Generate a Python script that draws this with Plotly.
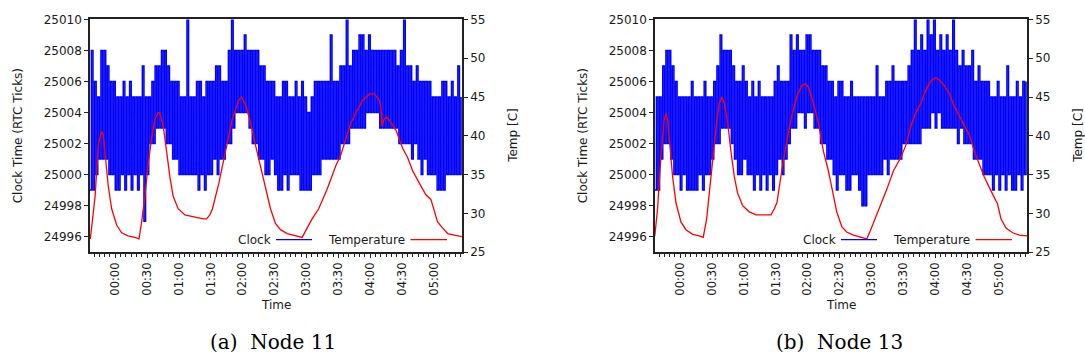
import pandas as pd
import plotly.graph_objects as go

# ---------------------------------------------------------------------------
# Data
# ---------------------------------------------------------------------------
BASE = pd.Timestamp("2016-06-02 00:00")

# Clock readings are summarised per 3-minute window (window start, in minutes
# relative to midnight): lowest and highest tick count seen in that window.
window_min = list(range(-24, 325, 3))

node11_clock_low = [
    24999, 24999, 25000, 25001, 25001, 25001, 25000, 25000, 24999, 24999,
    25000, 24999, 25000, 24999, 25000, 24999, 25000, 24997, 25000, 25002,
    25002, 25003, 25003, 25003, 25002, 25002, 25001, 25001, 25000, 25000,
    25000, 25000, 25000, 25000, 24999, 25000, 24999, 25000, 25000, 25001,
    25000, 25001, 25001, 25002, 25002, 25003, 25004, 25004, 25004, 25004,
    25003, 25002, 25002, 25001, 25001, 25000, 25000, 25001, 25000, 24999,
    24999, 25000, 24999, 25000, 25000, 25000, 24999, 24999, 24999, 24999,
    25000, 25000, 25000, 25001, 25001, 25001, 25001, 25001, 25001, 25002,
    25002, 25002, 25003, 25003, 25003, 25003, 25003, 25004, 25004, 25004,
    25004, 25003, 25003, 25003, 25003, 25003, 25003, 25002, 25002, 25002,
    25002, 25001, 25002, 25001, 25000, 25001, 25000, 25000, 25000, 24999,
    24999, 24999, 25000, 25000, 25000, 25000, 25000,
]
node11_clock_high = [
    25008, 25006, 25005, 25008, 25008, 25007, 25006, 25006, 25005, 25005,
    25006, 25005, 25006, 25005, 25005, 25005, 25007, 25005, 25005, 25006,
    25007, 25007, 25008, 25008, 25007, 25006, 25006, 25006, 25005, 25005,
    25010, 25005, 25005, 25006, 25006, 25005, 25006, 25006, 25006, 25007,
    25007, 25006, 25006, 25008, 25010, 25008, 25008, 25008, 25009, 25008,
    25008, 25008, 25008, 25007, 25007, 25006, 25006, 25006, 25005, 25005,
    25006, 25006, 25005, 25005, 25006, 25005, 25006, 25005, 25004, 25005,
    25006, 25006, 25006, 25006, 25006, 25009, 25006, 25006, 25007, 25007,
    25010, 25007, 25008, 25008, 25009, 25009, 25008, 25009, 25008, 25008,
    25008, 25008, 25008, 25008, 25008, 25008, 25007, 25008, 25010, 25007,
    25007, 25006, 25007, 25006, 25006, 25006, 25006, 25005, 25005, 25005,
    25006, 25006, 25005, 25006, 25005, 25007, 25005,
]

node13_clock_low = [
    24999, 24999, 25001, 25002, 25002, 25001, 25000, 25000, 24999, 25000,
    24999, 24999, 24999, 24999, 25000, 24999, 25000, 25000, 25001, 25002,
    25002, 25003, 25003, 25003, 25002, 25001, 25000, 25000, 25001, 25000,
    25000, 24999, 25000, 24999, 25000, 24999, 25000, 24999, 25000, 25001,
    25000, 25001, 25002, 25003, 25003, 25004, 25004, 25003, 25004, 25004,
    25003, 25003, 25002, 25002, 25001, 25001, 25000, 24999, 25000, 25000,
    24999, 24999, 25000, 25000, 24999, 24998, 24998, 25000, 25000, 25000,
    25000, 25000, 25001, 25000, 25001, 25001, 25001, 25001, 25002, 25002,
    25002, 25002, 25002, 25002, 25003, 25003, 25003, 25004, 25003, 25004,
    25003, 25003, 25003, 25003, 25003, 25002, 25003, 25002, 25002, 25002,
    25001, 25001, 25001, 25000, 25000, 25000, 24999, 25000, 24999, 25000,
    24999, 25000, 24999, 24999, 25000, 24999, 25000,
]
node13_clock_high = [
    25005, 25005, 25007, 25008, 25008, 25007, 25006, 25005, 25005, 25005,
    25005, 25006, 25005, 25005, 25005, 25006, 25005, 25005, 25006, 25007,
    25009, 25008, 25008, 25008, 25007, 25006, 25006, 25007, 25006, 25005,
    25006, 25005, 25006, 25005, 25005, 25005, 25005, 25006, 25007, 25006,
    25006, 25006, 25009, 25008, 25009, 25008, 25008, 25009, 25009, 25008,
    25008, 25008, 25007, 25007, 25006, 25006, 25005, 25006, 25006, 25005,
    25005, 25006, 25005, 25005, 25005, 25005, 25005, 25005, 25005, 25007,
    25005, 25005, 25006, 25006, 25007, 25006, 25006, 25006, 25006, 25007,
    25008, 25010, 25008, 25009, 25008, 25010, 25009, 25010, 25008, 25009,
    25008, 25009, 25008, 25010, 25008, 25007, 25008, 25007, 25007, 25008,
    25006, 25007, 25006, 25006, 25006, 25005, 25005, 25006, 25005, 25005,
    25007, 25005, 25005, 25006, 25005, 25006, 25006,
]

# Temperature samples: minutes relative to midnight and degrees Celsius
node11_temp_min = [
    -23.5, -19.0, -16.0, -13.5, -12.9, -11.3, -9.0, -6.6, -3.4, 1.3,
    6.0, 12.0, 18.5, 22.3, 24.8, 27.9, 31.0, 34.2, 37.3, 40.4,
    42.0, 45.1, 48.3, 51.4, 54.5, 59.2, 65.5, 74.9, 82.8, 85.9,
    89.0, 91.5, 97.5, 103.8, 110.0, 116.3, 118.8, 122.6, 127.3, 132.0,
    136.7, 141.4, 146.1, 150.8, 155.5, 161.8, 169.6, 175.9, 180.6, 185.3,
    191.5, 199.4, 207.8, 212.5, 217.2, 221.9, 226.6, 232.9, 239.2, 243.9,
    248.6, 250.2, 251.1, 253.3, 255.5, 259.6, 264.3, 270.5, 275.2, 279.9,
    286.2, 292.4, 297.1, 300.3, 303.4, 308.2, 312.9, 319.1, 326.3,
]
node11_temp = [
    26.7, 32.2, 38.8, 40.5, 40.6, 40.1, 37.2, 33.5, 30.6, 28.5,
    27.5, 27.1, 26.9, 26.7, 28.9, 32.2, 36.4, 39.7, 42.1, 43.0,
    42.9, 41.3, 38.0, 34.7, 32.2, 30.6, 29.8, 29.5, 29.3, 29.3,
    29.8, 30.6, 33.9, 38.0, 42.1, 44.6, 45.0, 44.0, 41.7, 38.8,
    36.0, 33.1, 30.6, 28.7, 27.9, 27.4, 27.1, 26.9, 28.1, 29.3,
    30.6, 33.1, 36.2, 37.6, 39.7, 41.7, 43.0, 44.6, 45.4, 45.4,
    44.6, 43.4, 41.3, 42.2, 42.4, 41.7, 40.7, 38.4, 37.2, 35.5,
    33.9, 32.4, 31.8, 30.2, 28.9, 28.1, 27.4, 27.2, 27.0,
]

node13_temp_min = [
    -24.0, -21.4, -18.3, -15.1, -13.5, -12.0, -9.8, -7.2, -4.1, 0.6,
    5.3, 11.6, 17.9, 21.6, 24.8, 27.9, 31.1, 34.2, 36.7, 39.2,
    41.4, 44.6, 47.7, 50.9, 54.0, 58.7, 65.0, 71.3, 79.1, 85.4,
    88.5, 91.0, 95.5, 100.2, 105.0, 109.6, 114.3, 117.5, 120.6, 125.3,
    130.0, 134.8, 139.4, 144.2, 147.3, 152.0, 156.7, 163.0, 170.9, 175.6,
    178.7, 183.5, 188.2, 194.4, 200.7, 207.6, 212.4, 217.1, 221.8, 226.5,
    231.2, 236.0, 240.6, 243.8, 248.4, 253.2, 257.9, 262.6, 267.4, 272.1,
    276.8, 281.5, 286.2, 292.5, 298.7, 301.9, 306.6, 312.9, 319.2, 326.4,
]
node13_temp = [
    27.1, 30.6, 37.2, 42.1, 42.9, 42.1, 38.8, 34.7, 31.4, 28.9,
    27.9, 27.3, 27.1, 26.9, 29.3, 33.5, 37.6, 41.7, 44.2, 45.0,
    44.2, 41.7, 38.0, 34.7, 32.6, 31.0, 30.2, 29.8, 29.8, 29.8,
    30.6, 31.4, 35.5, 39.3, 42.6, 45.0, 46.5, 46.7, 46.3, 44.2,
    41.7, 38.0, 35.5, 32.2, 30.2, 28.3, 27.6, 27.2, 26.9, 26.7,
    27.7, 29.3, 31.0, 33.1, 35.5, 37.2, 38.8, 41.3, 43.0, 44.2,
    45.9, 47.1, 47.5, 47.2, 46.5, 45.5, 43.8, 42.6, 41.3, 40.1,
    38.0, 36.4, 34.7, 32.9, 31.2, 29.3, 28.1, 27.5, 27.2, 27.1,
]

panels = [
    ("(a)\u00a0 Node 11", node11_clock_low, node11_clock_high, node11_temp_min, node11_temp),
    ("(b)\u00a0 Node 13", node13_clock_low, node13_clock_high, node13_temp_min, node13_temp),
]


def at(minutes):
    return [BASE + pd.Timedelta(minutes=m) for m in minutes]


def clock_trace_points(low, high):
    xs, ys = [], []
    for m, lo, hi in zip(window_min, low, high):
        xs += [m, m + 1.5]
        ys += [lo, hi]
    return at(xs), ys


# ---------------------------------------------------------------------------
# Figure
# ---------------------------------------------------------------------------
W, H = 1085, 363
FONT = "DejaVu Sans"
INK = "#1a1a1a"
BLUE = "#0000ff"
RED = "#ff0000"


def fx(p):
    return p / W


def fy(p):
    return 1 - p / H


plot_left = [90, 655]
plot_right = [462, 1027]
plot_top, plot_bottom = 13, 255

fig = go.Figure()
layout = dict(
    width=W, height=H,
    margin=dict(l=0, r=0, t=0, b=0),
    paper_bgcolor="white", plot_bgcolor="white",
    showlegend=False,
    font=dict(family=FONT, size=12, color=INK),
)
annotations, shapes = [], []

for i, (caption, lo, hi, tmin, temp) in enumerate(panels):
    xa = "x" if i == 0 else "x2"
    yc = "y" if i == 0 else "y3"
    yt = "y2" if i == 0 else "y4"
    xk = "xaxis" if i == 0 else "xaxis2"
    yck = "yaxis" if i == 0 else "yaxis3"
    ytk = "yaxis2" if i == 0 else "yaxis4"

    # clock readings drawn as a dense step trace between each window's extremes
    cx, cy = clock_trace_points(lo, hi)
    fig.add_trace(go.Scatter(x=cx, y=cy, mode="lines", name="Clock",
                             line=dict(color=BLUE, width=1.5, shape="hv",
                                       simplify=False),
                             xaxis=xa, yaxis=yc))
    fig.add_trace(go.Scatter(x=at(tmin), y=temp, mode="lines", name="Temperature",
                             line=dict(color=RED, width=1.3),
                             xaxis=xa, yaxis=yt))

    L, R = plot_left[i], plot_right[i]
    axis_common = dict(showgrid=False, zeroline=False, showline=True,
                       linecolor="#222222", linewidth=1.5,
                       ticks="outside", tickcolor="#222222", tickwidth=1,
                       tickfont=dict(family=FONT, size=12, color=INK))
    layout[xk] = dict(axis_common, type="date", domain=[fx(L), fx(R)], anchor=yc,
                      range=[BASE + pd.Timedelta(minutes=-23.8),
                             BASE + pd.Timedelta(minutes=326.4)],
                      tick0=BASE, dtick=30 * 60 * 1000, tickformat="%H:%M",
                      tickangle=-90, ticklen=4, mirror=True,
                      tickfont=dict(family=FONT, size=11.5, color=INK),
                      minor=dict(dtick=5 * 60 * 1000, ticks="outside",
                                 ticklen=3, tickcolor="#222222", tickwidth=1))
    layout[yck] = dict(axis_common, domain=[fy(plot_bottom), fy(plot_top)],
                       anchor=xa, range=[24995, 25010], tick0=24996, dtick=2,
                       tickformat="d", ticklen=4)
    layout[ytk] = dict(axis_common, overlaying=yc, side="right", anchor=xa,
                       range=[25, 55], tick0=25, dtick=5, ticklen=4)

    mid_y = fy((plot_top + plot_bottom) / 2)
    annotations += [
        dict(text="Clock Time (RTC Ticks)", x=fx(L - 72.5), y=mid_y,
             textangle=-90, font=dict(size=12)),
        dict(text="Temp [C]", x=fx(R + 51), y=mid_y, textangle=-90,
             font=dict(size=12)),
        dict(text="Time", x=fx((L + R) / 2), y=fy(310), font=dict(size=12)),
        dict(text=caption, x=fx(273 + 566 * i), y=fy(348),
             font=dict(family="DejaVu Serif", size=20, color="black")),
        # legend entries: label followed by its line sample
        dict(text="Clock", x=fx(L + 146), y=fy(242), xanchor="left",
             font=dict(size=12)),
        dict(text="Temperature", x=fx(L + 235.5), y=fy(242), xanchor="left",
             font=dict(size=12)),
    ]
    shapes += [
        dict(type="line", xref="paper", yref="paper",
             x0=fx(L + 186), x1=fx(L + 222), y0=fy(242), y1=fy(242),
             line=dict(color=BLUE, width=1.3)),
        dict(type="line", xref="paper", yref="paper",
             x0=fx(L + 320.5), x1=fx(L + 357), y0=fy(242), y1=fy(242),
             line=dict(color=RED, width=1.3)),
    ]

for a in annotations:
    a.update(xref="paper", yref="paper", showarrow=False)
    a.setdefault("xanchor", "center")
    a.setdefault("yanchor", "middle")

layout["annotations"] = annotations
layout["shapes"] = shapes
fig.update_layout(**layout)

fig.write_html("out.html")
